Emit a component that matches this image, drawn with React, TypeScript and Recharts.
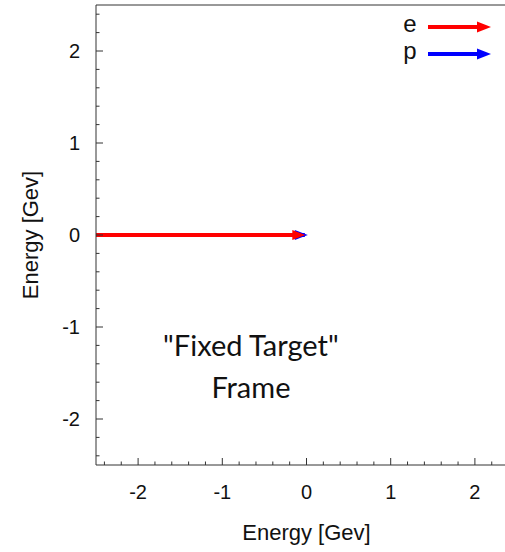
import React from 'react';
import {
  ComposedChart,
  Line,
  XAxis,
  YAxis,
  Legend,
  ReferenceDot,
} from 'recharts';

// electron arrow (comes in from the left) and proton arrow (at rest)
const eArrow = [
  { x: -2.5, y: 0 },
  { x: -0.05, y: 0 },
];
const pArrow = [
  { x: -0.05, y: 0 },
  { x: -0.02, y: 0 },
];

const majorTicks = [-2, -1, 0, 1, 2];
const xTicks = [
  -2.4, -2.2, -2, -1.8, -1.6, -1.4, -1.2, -1, -0.8, -0.6, -0.4, -0.2, 0,
  0.2, 0.4, 0.6, 0.8, 1, 1.2, 1.4, 1.6, 1.8, 2, 2.2, 2.4,
];
const yTicks = xTicks;

const FONT = '"Liberation Sans", Arial, sans-serif';
const AXIS = '#333';

const isMajor = (v: number) => majorTicks.includes(Math.round(v * 10) / 10);

// gnuplot style inward ticks
const BottomTick = (props: any) => {
  const { x, y, payload } = props;
  const v = payload.value;
  const len = isMajor(v) ? 7 : 3.5;
  return (
    <g>
      <line x1={x} x2={x} y1={y} y2={y - len} stroke={AXIS} strokeWidth={1} />
      {isMajor(v) && (
        <text x={x} y={y + 34} textAnchor="middle" fontSize={20} fontFamily={FONT} fill="#111">
          {v}
        </text>
      )}
    </g>
  );
};

const TopTick = (props: any) => {
  const { x, y, payload } = props;
  const len = isMajor(payload.value) ? 7 : 3.5;
  return <line x1={x} x2={x} y1={y} y2={y + len} stroke={AXIS} strokeWidth={1} />;
};

const LeftTick = (props: any) => {
  const { x, y, payload } = props;
  const v = payload.value;
  const len = isMajor(v) ? 7 : 3.5;
  return (
    <g>
      <line x1={x} x2={x + len} y1={y} y2={y} stroke={AXIS} strokeWidth={1} />
      {isMajor(v) && (
        <text x={x - 16} y={y + 7} textAnchor="end" fontSize={20} fontFamily={FONT} fill="#111">
          {v}
        </text>
      )}
    </g>
  );
};

const arrowHead = (color: string, last: number) => (props: any) => {
  const { cx, cy, index } = props;
  if (index !== last) return <g key={`d${index}`} />;
  return (
    <polygon
      key={`d${index}`}
      points={`${cx - 10},${cy - 5} ${cx + 3},${cy} ${cx - 10},${cy + 5}`}
      fill={color}
    />
  );
};

const legendItems = [
  { name: 'e', color: '#ff0000' },
  { name: 'p', color: '#0000ff' },
];

const ArrowLegend = () => (
  <div style={{ fontFamily: FONT, fontSize: 24, color: '#111' }}>
    {legendItems.map((it) => (
      <div key={it.name} style={{ display: 'flex', alignItems: 'center', height: 27 }}>
        <span style={{ width: 14, textAlign: 'center', lineHeight: '24px', marginTop: -6 }}>{it.name}</span>
        <svg width={66} height={12} style={{ marginLeft: 11 }}>
          <line x1={0} x2={52} y1={6} y2={6} stroke={it.color} strokeWidth={4} />
          <polygon points="49,0.5 63,6 49,11.5" fill={it.color} />
        </svg>
      </div>
    ))}
  </div>
);

const FrameLabel = (props: any) => {
  const { viewBox } = props;
  const cx = viewBox.x + viewBox.width / 2;
  const cy = viewBox.y + viewBox.height / 2;
  return (
    <g fontFamily="Lato, 'Open Sans', sans-serif" fontSize={29} fill="#111" textAnchor="middle">
      <text x={cx} y={cy - 11}>"Fixed Target"</text>
      <text x={cx} y={cy + 31}>Frame</text>
    </g>
  );
};

export default function App() {
  return (
    <div style={{ position: 'absolute', left: 0, top: 0, width: 505, height: 552, overflow: 'hidden', background: '#fff' }}>
      <ComposedChart width={520} height={552} margin={{ top: 4, right: 3, bottom: 0, left: 0 }}>
        <XAxis
          xAxisId="b"
          type="number"
          dataKey="x"
          domain={[-2.5, 2.5]}
          ticks={xTicks}
          interval={0}
          allowDataOverflow
          height={87}
          stroke={AXIS}
          tickLine={false}
          tickSize={0}
          tickMargin={0}
          tick={<BottomTick />}
          label={{ value: 'Energy [Gev]', position: 'insideBottom', offset: 12, fontSize: 22, fontFamily: FONT, fill: '#111' }}
        />
        <XAxis
          xAxisId="t"
          orientation="top"
          type="number"
          domain={[-2.5, 2.5]}
          ticks={xTicks}
          interval={0}
          height={1}
          stroke={AXIS}
          tickLine={false}
          tickSize={0}
          tickMargin={0}
          tick={<TopTick />}
        />
        <YAxis
          yAxisId="l"
          type="number"
          dataKey="y"
          domain={[-2.5, 2.5]}
          ticks={yTicks}
          interval={0}
          allowDataOverflow
          width={96}
          stroke={AXIS}
          tickLine={false}
          tickSize={0}
          tickMargin={0}
          tick={<LeftTick />}
          label={{ value: 'Energy [Gev]', angle: -90, position: 'insideLeft', offset: 30, fontSize: 22, fontFamily: FONT, fill: '#111', style: { textAnchor: 'middle' } }}
        />
        <Legend
          verticalAlign="middle"
          align="center"
          layout="vertical"
          content={<ArrowLegend />}
          wrapperStyle={{ top: 13, left: 403, width: 100 }}
        />
        <Line
          xAxisId="b"
          yAxisId="l"
          data={pArrow}
          dataKey="y"
          name="p"
          stroke="#0000ff"
          strokeWidth={4}
          dot={arrowHead('#0000ff', pArrow.length - 1)}
          activeDot={false}
          isAnimationActive={false}
        />
        <Line
          xAxisId="b"
          yAxisId="l"
          data={eArrow}
          dataKey="y"
          name="e"
          stroke="#ff0000"
          strokeWidth={4}
          dot={arrowHead('#ff0000', eArrow.length - 1)}
          activeDot={false}
          isAnimationActive={false}
        />
        <ReferenceDot
          xAxisId="b"
          yAxisId="l"
          x={-0.66}
          y={-1.43}
          r={0}
          fill="none"
          stroke="none"
          label={<FrameLabel />}
        />
      </ComposedChart>
    </div>
  );
}
